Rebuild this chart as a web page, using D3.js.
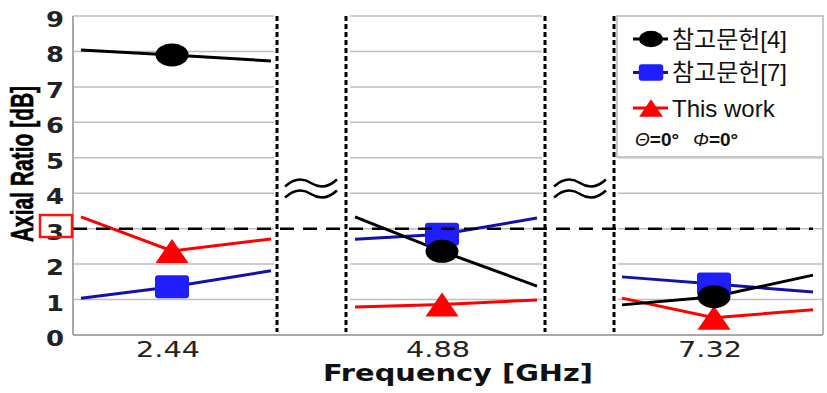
<!DOCTYPE html>
<html>
<head>
<meta charset="utf-8">
<script src="https://cdn.jsdelivr.net/npm/d3@7"></script>
<style>
  html, body { margin: 0; padding: 0; background: #fff; }
  svg { display: block; }
</style>
</head>
<body>
<div id="chart"></div>
<script>
// --- DATA ---
const freqLabels = ['2.44', '4.88', '7.32'];
const pointOffsets = [-1, 0, 1];           // left edge, centre (marker), right edge of each panel
const yTicks = [0, 1, 2, 3, 4, 5, 6, 7, 8, 9];
const ref4 = [[8.04, 7.9, 7.73], [3.33, 2.36, 1.38], [0.85, 1.08, 1.69]];
const ref7 = [[1.04, 1.36, 1.81], [2.7, 2.84, 3.3], [1.64, 1.44, 1.21]];
const thisWork = [[3.33, 2.37, 2.71], [0.79, 0.86, 0.99], [1.04, 0.49, 0.71]];
const seriesNames = ['참고문헌[4]', '참고문헌[7]', 'This work'];
const limitValue = 3;

// --- LAYOUT ---
const W = 827, H = 393;
const yTop = 16, yBottom = 335, axisX = 73, rightX = 823;
const panels = [
  { grid: [73, 274], pts: [81, 172, 271] },
  { grid: [350, 542], pts: [355, 442, 537] },
  { grid: [618, 823], pts: [622, 714, 813] }
];
const breakLines = [277, 346, 545, 614];
const breakMarks = [311, 580];

const series = [
  { name: seriesNames[0], data: ref4, line: '#000', fill: '#000', shape: 'circle' },
  { name: seriesNames[1], data: ref7, line: '#1212a8', fill: '#1e1eff', shape: 'square' },
  { name: seriesNames[2], data: thisWork, line: '#ff0000', fill: '#ff0000', shape: 'triangle' }
];

const svg = d3.select('#chart').append('svg')
  .attr('width', W).attr('height', H);

const y = d3.scaleLinear().domain([0, 9]).range([yBottom, yTop]);
const xs = panels.map(p => d3.scaleLinear().domain(pointOffsets).range(p.pts));

// gridlines per panel
panels.forEach(p => {
  svg.append('g').selectAll('line').data(yTicks.filter(t => t > 0)).join('line')
    .attr('x1', p.grid[0]).attr('x2', p.grid[1])
    .attr('y1', d => y(d)).attr('y2', d => y(d))
    .attr('stroke', '#bdbdbd').attr('stroke-width', 1.5);
});

// frame: left axis, bottom, right
svg.append('line').attr('x1', axisX).attr('x2', axisX).attr('y1', yTop).attr('y2', yBottom)
  .attr('stroke', '#a8a8a8').attr('stroke-width', 2);
svg.append('line').attr('x1', axisX).attr('x2', rightX).attr('y1', yBottom).attr('y2', yBottom)
  .attr('stroke', '#a8a8a8').attr('stroke-width', 2);
svg.append('line').attr('x1', rightX).attr('x2', rightX).attr('y1', yTop).attr('y2', yBottom)
  .attr('stroke', '#b5b5b5').attr('stroke-width', 2);

// y axis labels
const yAxis = svg.append('g').attr('transform', `translate(${axisX},0)`)
  .call(d3.axisLeft(y).tickValues(yTicks).tickSize(0).tickPadding(9));
yAxis.select('.domain').remove();
yAxis.selectAll('text')
  .attr('font-family', 'DejaVu Sans, Verdana, sans-serif')
  .attr('font-weight', 'bold')
  .attr('font-size', 21)
  .attr('fill', '#222')
  .attr('dy', '0.5em')
  .attr('textLength', 18)
  .attr('lengthAdjust', 'spacingAndGlyphs');

// red box around 3
svg.append('rect').attr('x', 40).attr('y', 215).attr('width', 32).attr('height', 22)
  .attr('fill', 'none').attr('stroke', '#ff1010').attr('stroke-width', 2.5);

// y title
svg.append('text')
  .attr('transform', 'translate(22,164) scale(1.5,1) rotate(-90)')
  .attr('text-anchor', 'middle').attr('dominant-baseline', 'central')
  .attr('font-family', 'Liberation Sans, Arial, sans-serif')
  .attr('font-weight', 'bold').attr('font-size', 21)
  .attr('stroke', '#000').attr('stroke-width', 0.4)
  .text('Axial Ratio [dB]');

// x tick labels
svg.append('g').selectAll('text').data(freqLabels).join('text')
  .attr('x', (d, i) => xs[i](0) - 4).attr('y', 357)
  .attr('text-anchor', 'middle')
  .attr('font-family', 'DejaVu Sans, Verdana, sans-serif')
  .attr('font-size', 22).attr('fill', '#222')
  .attr('textLength', 64).attr('lengthAdjust', 'spacingAndGlyphs')
  .text(d => d);

svg.append('text').attr('x', 458).attr('y', 381).attr('text-anchor', 'middle')
  .attr('font-family', 'DejaVu Sans, Verdana, sans-serif')
  .attr('font-weight', 'bold').attr('font-size', 23).attr('fill', '#111')
  .attr('textLength', 270).attr('lengthAdjust', 'spacingAndGlyphs')
  .text('Frequency [GHz]');

// legend box (covers top of last panel)
svg.append('rect').attr('x', 617).attr('y', yTop).attr('width', rightX - 617).attr('height', 141)
  .attr('fill', '#fff').attr('stroke', '#c8c8c8').attr('stroke-width', 2);

// vertical break lines
svg.append('g').selectAll('line').data(breakLines).join('line')
  .attr('x1', d => d).attr('x2', d => d).attr('y1', yTop).attr('y2', yBottom - 3)
  .attr('stroke', '#000').attr('stroke-width', 3).attr('stroke-dasharray', '5,3');

// break symbols
function tilde(x0, cy, w, a) {
  return `M${x0},${cy + a} Q${x0 + w / 4},${cy - 2.4 * a} ${x0 + w / 2},${cy} T${x0 + w},${cy - a}`;
}
breakMarks.forEach(cx => {
  [183, 194].forEach(cy => {
    svg.append('path').attr('d', tilde(cx - 26, cy, 52, 3.5))
      .attr('fill', 'none').attr('stroke', '#000').attr('stroke-width', 2.5);
  });
});

// marker drawing
function drawMarker(g, shape, cx, cy, fill, s) {
  if (shape === 'circle') {
    g.append('ellipse').attr('cx', cx).attr('cy', cy).attr('rx', 16.5 * s).attr('ry', 11.5 * s).attr('fill', fill);
  } else if (shape === 'square') {
    g.append('rect').attr('x', cx - 17 * s).attr('y', cy - 11.5 * s).attr('width', 34 * s).attr('height', 23 * s)
      .attr('rx', 3).attr('fill', fill);
  } else {
    const w = 16.5 * s, h = 12 * s;
    g.append('path').attr('d', `M${cx},${cy - h} L${cx + w},${cy + h} L${cx - w},${cy + h} Z`).attr('fill', fill);
  }
}

// series lines and markers (red at the bottom, black on top)
const line = d3.line();
[2, 1, 0].forEach(si => {
  const s = series[si];
  const g = svg.append('g');
  s.data.forEach((vals, pi) => {
    g.append('path')
      .attr('d', line(vals.map((v, k) => [xs[pi](pointOffsets[k]), y(v)])))
      .attr('fill', 'none').attr('stroke', s.line).attr('stroke-width', 3);
  });
});
[2, 1, 0].forEach(si => {
  const s = series[si];
  const g = svg.append('g');
  s.data.forEach((vals, pi) => {
    drawMarker(g, s.shape, xs[pi](0), y(vals[1]), s.fill, 1);
  });
});

// 3 dB limit line
svg.append('line').attr('x1', axisX).attr('x2', 813).attr('y1', y(limitValue)).attr('y2', y(limitValue))
  .attr('stroke', '#000').attr('stroke-width', 2.5).attr('stroke-dasharray', '14,9');

// legend entries
const legendRows = [39, 72.5, 108];
series.forEach((s, i) => {
  const g = svg.append('g');
  g.append('line').attr('x1', 633).attr('x2', 668).attr('y1', legendRows[i]).attr('y2', legendRows[i])
    .attr('stroke', s.line).attr('stroke-width', 3);
  drawMarker(g, s.shape, 651, legendRows[i], s.fill, 0.72);
  g.append('text').attr('x', 672).attr('y', legendRows[i]).attr('dominant-baseline', 'central')
    .attr('font-family', 'Liberation Sans, Arial, Noto Sans CJK KR, sans-serif')
    .attr('font-size', 24).attr('fill', '#111')
    .text(s.name);
});

const angle = svg.append('text').attr('x', 635).attr('y', 139).attr('dominant-baseline', 'central')
  .attr('font-family', 'Liberation Sans, Arial, sans-serif').attr('font-size', 19).attr('fill', '#111');
angle.append('tspan').attr('font-style', 'italic').text('Θ');
angle.append('tspan').attr('font-weight', 'bold').text('=0°');
angle.append('tspan').attr('dx', 14).attr('font-style', 'italic').text('Φ');
angle.append('tspan').attr('font-weight', 'bold').text('=0°');
</script>
</body>
</html>
